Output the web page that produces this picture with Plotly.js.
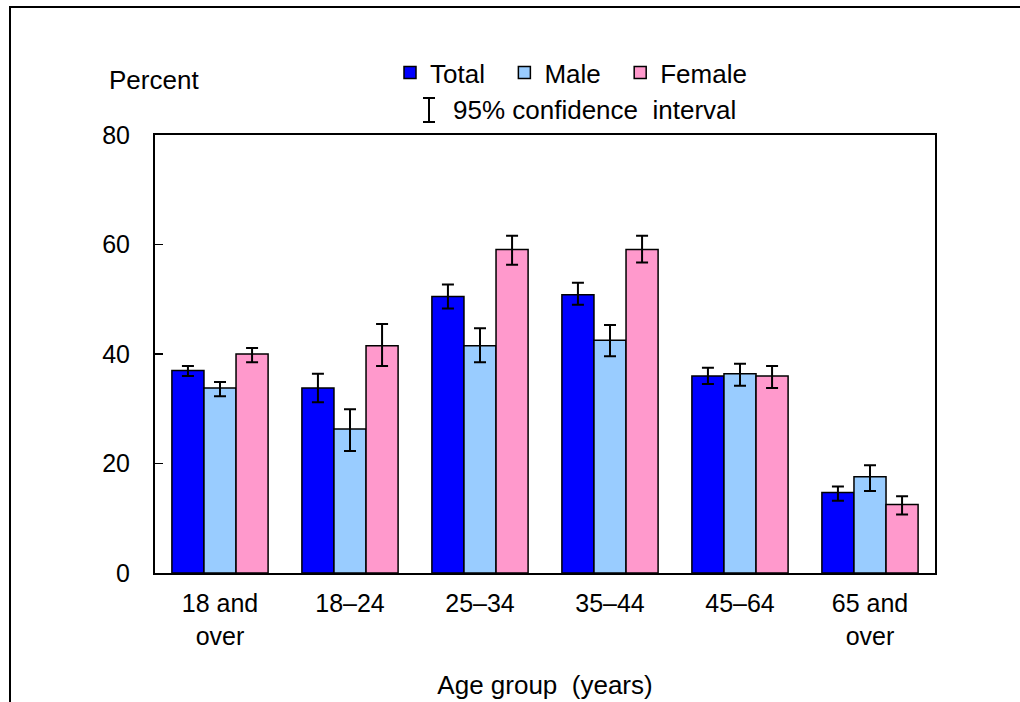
<!DOCTYPE html>
<html>
<head>
<meta charset="utf-8">
<script src="https://cdn.plot.ly/plotly-3.0.1.min.js"></script>
<style>html,body{margin:0;padding:0;background:#fff;}#chart{width:1020px;height:702px;}</style>
</head>
<body>
<div id="chart"></div>
<script>
const categories = ["18 and<br>over", "18–24", "25–34", "35–44", "45–64", "65 and<br>over"];
const totalValues = [37.0, 33.8, 50.5, 50.8, 36.0, 14.7];
const totalUpper  = [37.8, 36.4, 52.7, 53.0, 37.5, 15.8];
const totalLower  = [36.0, 31.2, 48.3, 49.0, 34.5, 13.2];
const maleValues  = [33.8, 26.3, 41.5, 42.5, 36.4, 17.6];
const maleUpper   = [34.9, 29.9, 44.7, 45.3, 38.2, 19.7];
const maleLower   = [32.3, 22.3, 38.5, 39.6, 34.2, 15.0];
const femaleValues = [40.0, 41.5, 59.1, 59.1, 36.0, 12.5];
const femaleUpper  = [41.1, 45.5, 61.6, 61.6, 37.8, 14.0];
const femaleLower  = [38.5, 37.8, 56.3, 56.7, 33.8, 10.7];
const seriesNames = ["Total", "Male", "Female"];
const seriesColors = ["#0000FF", "#99CCFF", "#FF99CC"];

const FONT = "Liberation Sans, Arial, sans-serif";
const PAD = "\u00a0\u00a0";

function mk(name, color, vals, up, lo) {
  return {
    type: "bar", name: name, x: categories, y: vals,
    marker: {color: color, line: {color: "#000", width: 1.5}},
    error_y: {type: "data", symmetric: false,
      array: vals.map((v, i) => +(up[i] - v).toFixed(2)),
      arrayminus: vals.map((v, i) => +(v - lo[i]).toFixed(2)),
      color: "#000", thickness: 2, width: 6},
    hoverinfo: "x+y"
  };
}

const data = [
  mk(seriesNames[0] + PAD, seriesColors[0], totalValues, totalUpper, totalLower),
  mk(seriesNames[1] + PAD, seriesColors[1], maleValues, maleUpper, maleLower),
  mk(seriesNames[2], seriesColors[2], femaleValues, femaleUpper, femaleLower)
];

const L = 155, R = 935, T = 135, B = 573, W = 1020, H = 702;
const px = v => (v - L) / (R - L);
const py = v => (B - v) / (B - T);

const layout = {
  width: W, height: H,
  margin: {l: L, r: W - R, t: T, b: H - B},
  paper_bgcolor: "#fff", plot_bgcolor: "#fff",
  font: {family: FONT, size: 26, color: "#000"},
  barmode: "group", bargap: 0.26, bargroupgap: 0,
  showlegend: true,
  legend: {orientation: "h", x: px(390), xanchor: "left", y: py(49), yanchor: "top",
    font: {family: FONT, size: 26, color: "#000"}, itemwidth: 30, traceorder: "normal",
    bgcolor: "rgba(0,0,0,0)"},
  xaxis: {type: "category", showline: true, linecolor: "#000", linewidth: 2, mirror: true,
    ticks: "", showgrid: false, zeroline: false, ticklabelstandoff: 7,
    tickfont: {family: FONT, size: 25, color: "#000"},
    title: {text: "Age group\u00a0\u00a0(years)", font: {family: FONT, size: 26, color: "#000"}, standoff: 27}},
  yaxis: {range: [0, 80], dtick: 20, tick0: 0, showline: true, linecolor: "#000", linewidth: 2, mirror: true,
    ticks: "inside", ticklen: 8, tickwidth: 1.5, tickcolor: "#000", showgrid: false, zeroline: false,
    ticklabelstandoff: 18, tickfont: {family: FONT, size: 25, color: "#000"}},
  annotations: [
    {xref: "paper", yref: "paper", x: px(107), y: py(80), xanchor: "left", yanchor: "middle",
     text: "Percent", showarrow: false, font: {family: FONT, size: 26, color: "#000"}},
    {xref: "paper", yref: "paper", x: px(451), y: py(110), xanchor: "left", yanchor: "middle",
     text: "95% confidence\u00a0\u00a0interval", showarrow: false, font: {family: FONT, size: 26, color: "#000"}}
  ],
  shapes: [
    {type: "rect", xref: "paper", yref: "paper", x0: px(10), x1: px(1060), y0: py(7), y1: py(760),
     line: {color: "#000", width: 2}, fillcolor: "rgba(0,0,0,0)", layer: "below"},
    {type: "line", xref: "paper", yref: "paper", x0: px(429), x1: px(429), y0: py(98), y1: py(122), line: {color: "#000", width: 2}},
    {type: "line", xref: "paper", yref: "paper", x0: px(423), x1: px(435), y0: py(98), y1: py(98), line: {color: "#000", width: 2}},
    {type: "line", xref: "paper", yref: "paper", x0: px(423), x1: px(435), y0: py(122), y1: py(122), line: {color: "#000", width: 2}}
  ]
};

Plotly.newPlot("chart", data, layout, {displayModeBar: false, staticPlot: true});
</script>
</body>
</html>
